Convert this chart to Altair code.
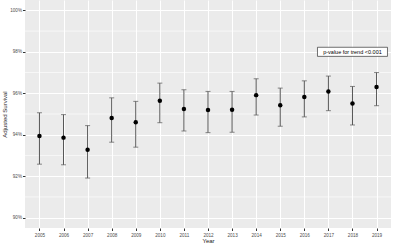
import altair as alt
import pandas as pd

years = [str(y) for y in range(2005, 2020)]
estimate = [93.94, 93.86, 93.28, 94.81, 94.60, 95.64, 95.24, 95.19, 95.21, 95.91, 95.42, 95.82, 96.09, 95.51, 96.30]
lower = [92.58, 92.55, 91.91, 93.64, 93.40, 94.58, 94.18, 94.10, 94.12, 94.95, 94.41, 94.86, 95.16, 94.47, 95.40]
upper = [95.06, 94.97, 94.44, 95.78, 95.61, 96.49, 96.17, 96.09, 96.09, 96.70, 96.25, 96.60, 96.83, 96.33, 97.00]

major_ticks = [0.90, 0.92, 0.94, 0.96, 0.98, 1.00]
minor_ticks = [0.91, 0.93, 0.95, 0.97, 0.99]

label_year = ["2018"]
label_y = [0.98]
label_text = ["p-value for trend <0.001"]

df = pd.DataFrame({
    "year": years,
    "est": [v / 100 for v in estimate],
    "lo": [v / 100 for v in lower],
    "hi": [v / 100 for v in upper],
})
minor_df = pd.DataFrame({"v": minor_ticks})
lab_df = pd.DataFrame({"year": label_year, "y": label_y, "text": label_text})

FONT = "Liberation Sans"
yscale = alt.Scale(domain=[0.895, 1.005], nice=False, zero=False)
xscale = alt.Scale(type="point", padding=0.6)

yaxis = alt.Axis(title="Adjusted Survival", values=major_ticks, format=".0%",
                 labelFontSize=4.6, labelColor="#4D4D4D", titleFontSize=6,
                 titleColor="#222222", titleFontWeight="normal",
                 tickColor="#333333", tickSize=2.5, labelPadding=1, titlePadding=2,
                 domain=False, grid=True, gridColor="white", gridWidth=1)

xenc = alt.X("year:O", scale=xscale, sort=years,
             axis=alt.Axis(title="Year", labelAngle=0, labelFontSize=4.6, labelColor="#4D4D4D",
                           titleFontSize=6, titleColor="#222222", titleFontWeight="normal",
                           tickColor="#333333", tickSize=2.5, labelPadding=1.5, titlePadding=0.5,
                           domain=False, grid=True, gridColor="white", gridWidth=1))

minor = alt.Chart(minor_df).mark_rule(color="white", strokeWidth=0.6).encode(
    y=alt.Y("v:Q", scale=yscale, axis=yaxis)
)

rules = alt.Chart(df).mark_rule(color="#555555", strokeWidth=1).encode(
    x=xenc,
    y=alt.Y("lo:Q", scale=yscale, axis=yaxis),
    y2="hi:Q",
)
cap_lo = alt.Chart(df).mark_tick(color="#555555", thickness=1, size=5).encode(
    x=alt.X("year:O", scale=xscale, sort=years), y=alt.Y("lo:Q", scale=yscale))
cap_hi = alt.Chart(df).mark_tick(color="#555555", thickness=1, size=5).encode(
    x=alt.X("year:O", scale=xscale, sort=years), y=alt.Y("hi:Q", scale=yscale))
pts = alt.Chart(df).mark_circle(color="black", size=20, opacity=1).encode(
    x=alt.X("year:O", scale=xscale, sort=years), y=alt.Y("est:Q", scale=yscale))

box = alt.Chart(lab_df).mark_point(
    shape="M-1,-0.13L1,-0.13L1,0.13L-1,0.13Z", size=4900, filled=True,
    fill="white", stroke="#333333", strokeWidth=0.7, opacity=1
).encode(x=alt.X("year:O", scale=xscale, sort=years), y=alt.Y("y:Q", scale=yscale))
txt = alt.Chart(lab_df).mark_text(font=FONT, fontSize=5.5, color="black").encode(
    x=alt.X("year:O", scale=xscale, sort=years), y=alt.Y("y:Q", scale=yscale), text="text:N")

chart = alt.layer(minor, rules, cap_lo, cap_hi, pts, box, txt).properties(
    width=394, height=244,
    autosize=alt.AutoSizeParams(type="fit", contains="padding"),
    padding={"left": 1, "top": 0, "right": 2, "bottom": 0},
    background="white",
).configure_view(fill="#EBEBEB", stroke=None).configure_axis(
    labelFont=FONT, titleFont=FONT
)

chart.save("out.html", embed_options={"renderer": "svg", "actions": False})
